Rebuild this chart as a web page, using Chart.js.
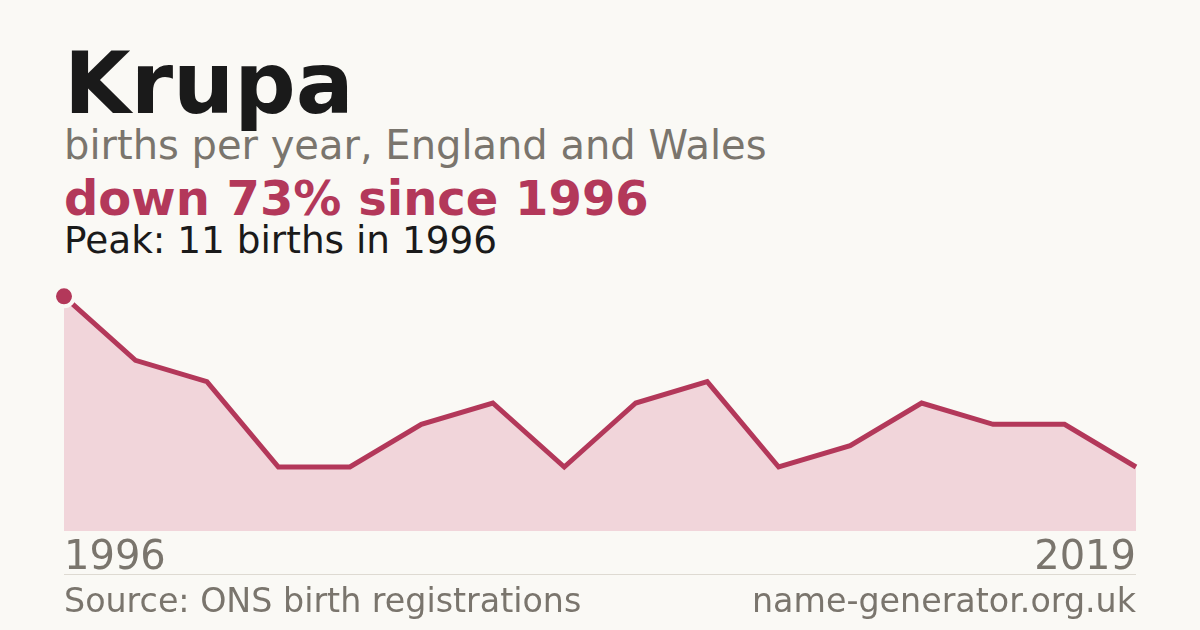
<!DOCTYPE html>
<html>
<head>
<meta charset="utf-8">
<script src="https://cdn.jsdelivr.net/npm/chart.js@4/dist/chart.umd.min.js"></script>
<style>
  html, body { margin: 0; padding: 0; }
  body {
    width: 1200px; height: 630px; overflow: hidden;
    background: #faf9f5;
    font-family: "DejaVu Sans", sans-serif;
    position: relative;
  }
  .txt { position: absolute; left: 64px; line-height: 1; white-space: nowrap; }
  #title { top: 40px; font-size: 86px; font-weight: bold; color: #1a1a1a; }
  #sub { top: 125px; font-size: 40px; color: #7a756d; }
  #change { top: 174px; font-size: 48px; font-weight: bold; color: #b3385a; }
  #peak { top: 222px; font-size: 37.4px; color: #1a1a1a; }
  #rule { position: absolute; left: 64px; top: 574px; width: 1072px; height: 1px; background: #dedad2; }
  #source { top: 584px; font-size: 33.3px; color: #7a756d; }
  #site { top: 584px; left: auto; right: 64px; font-size: 33.3px; color: #7a756d; }
  #wrap { position: absolute; left: 40px; top: 260px; width: 1120px; height: 327px; }
</style>
</head>
<body>
<div class="txt" id="title">Krupa</div>
<div class="txt" id="sub">births per year, England and Wales</div>
<div class="txt" id="change">down 73% since 1996</div>
<div class="txt" id="peak">Peak: 11 births in 1996</div>
<div id="wrap"><canvas id="births"></canvas></div>
<div id="rule"></div>
<div class="txt" id="source">Source: ONS birth registrations</div>
<div class="txt" id="site">name-generator.org.uk</div>

<script>
// years with recorded births (only first and last are labelled)
const years = ["1996", "1997", "1998", "2000", "2001", "2003", "2004", "2006",
               "2008", "2009", "2011", "2012", "2014", "2015", "2017", "2019"];
const births = [11, 8, 7, 3, 3, 5, 6, 3, 6, 7, 3, 4, 6, 5, 5, 3];
const yMin = 0;
const yMax = 12;

const peakIndex = births.indexOf(Math.max(...births));
const bg = '#faf9f5';
const red = '#b3385a';

const ctx = document.getElementById('births').getContext('2d');
new Chart(ctx, {
  type: 'line',
  data: {
    labels: years,
    datasets: [{
      data: births,
      borderColor: red,
      borderWidth: 5,
      backgroundColor: '#f1d5da',
      fill: 'origin',
      tension: 0,
      clip: false,
      pointRadius: (c) => c.dataIndex === peakIndex ? 10 : 0,
      pointBorderWidth: 4,
      pointBackgroundColor: red,
      pointBorderColor: bg
    }]
  },
  options: {
    responsive: true,
    maintainAspectRatio: false,
    animation: false,
    events: [],
    layout: { padding: { left: 24, right: 24, top: 15, bottom: 0 } },
    plugins: { legend: { display: false }, tooltip: { enabled: false } },
    scales: {
      x: {
        grid: { display: false, drawTicks: false },
        border: { display: false },
        ticks: {
          autoSkip: false,
          maxRotation: 0,
          align: 'inner',
          padding: 4,
          color: '#7a756d',
          font: { family: 'DejaVu Sans', size: 40 },
          callback: (v, i) => (i === 0 || i === years.length - 1) ? years[i] : ''
        }
      },
      y: {
        display: false,
        min: yMin,
        max: yMax
      }
    }
  }
});
</script>
</body>
</html>
